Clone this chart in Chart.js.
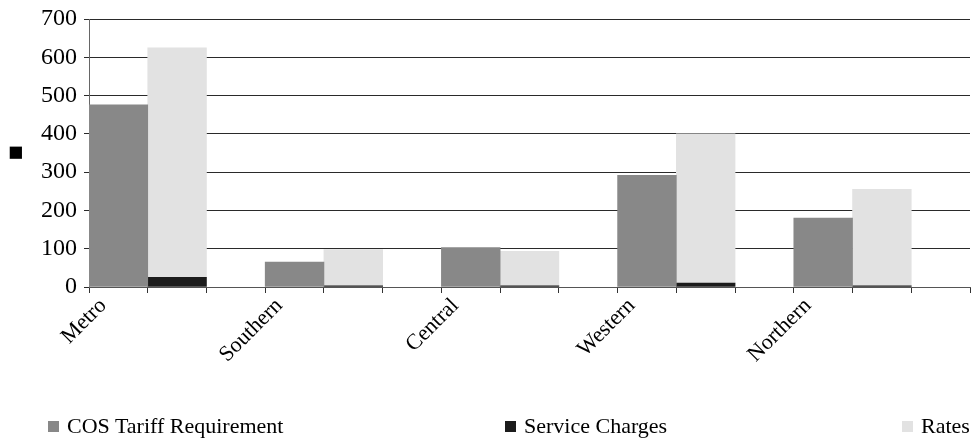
<!DOCTYPE html>
<html>
<head>
<meta charset="utf-8">
<script src="https://cdn.jsdelivr.net/npm/chart.js@4.4.1/dist/chart.umd.min.js"></script>
<style>
  body { margin: 0; background: #fff; }
  #wrap { position: relative; width: 974px; height: 440px; }
  #legend { position: absolute; left: 0; top: 413px; width: 974px; height: 27px;
            font-family: "Liberation Serif", serif; font-size: 22px; color: #000; }
  .item { position: absolute; top: 0; white-space: nowrap; }
  .box { display: inline-block; width: 11px; height: 11px; margin-right: 8px; vertical-align: 1px; }
</style>
</head>
<body>
<div id="wrap">
  <canvas id="js--chart"></canvas>
  <div id="legend"></div>
</div>
<script>
/* data */
const regions = ["Metro", "Southern", "Central", "Western", "Northern"];
const cosTariff = [476, 65, 103, 292, 180];
const serviceCharges = [25, 3, 3, 10, 3];
const rates = [600, 95, 90, 390, 252];
const yTicks = [0, 100, 200, 300, 400, 500, 600, 700];

const seriesNames = ["COS Tariff Requirement", "Service Charges", "Rates"];
const seriesColors = ['#888888', '#1c1c1c', '#e2e2e2'];
const legendLeft = [48, 505, 902];

// each region gets three slots, the third one stays empty
const slots = [];
regions.forEach(function(r){ slots.push("", "", ""); });

const serif = "'Liberation Serif', 'Times New Roman', serif";

const data = {
    labels: regions,
    datasets: [
        { label: seriesNames[0], data: cosTariff, backgroundColor: seriesColors[0], stack: 'a' },
        { label: seriesNames[1], data: serviceCharges, backgroundColor: seriesColors[1], stack: 'b' },
        { label: seriesNames[2], data: rates, backgroundColor: seriesColors[2], stack: 'b' },
        { label: '', data: regions.map(function(){ return null; }), stack: 'c' }
    ]
};

const config = {
    type: 'bar',
    data: data,
    options: {
        responsive: false,
        animation: false,
        layout: { padding: { top: 18, right: 4, left: 0, bottom: 0 } },
        datasets: { bar: { categoryPercentage: 1, barPercentage: 1, borderWidth: 0 } },
        plugins: { legend: { display: false }, tooltip: { enabled: false } },
        scales: {
            x: {
                type: 'category',
                stacked: true,
                weight: 1,
                grid: { display: false },
                border: { display: false },
                ticks: {
                    minRotation: 45, maxRotation: 45,
                    labelOffset: -74, padding: -8,
                    color: '#000',
                    font: { family: serif, size: 22 }
                },
                afterFit: function(s){ s.height = 147; }
            },
            x2: {
                type: 'category',
                position: 'bottom',
                labels: slots,
                offset: true,
                weight: 0,
                grid: { offset: true, drawOnChartArea: false, drawTicks: true, tickLength: 6, color: '#333' },
                border: { display: true, color: '#555', width: 1 },
                ticks: { display: false },
                afterFit: function(s){ s.height = 6; }
            },
            y: {
                stacked: true,
                min: 0, max: 700,
                afterBuildTicks: function(s){ s.ticks = yTicks.map(function(v){ return { value: v }; }); },
                grid: { color: '#2a2a2a', tickLength: 5, lineWidth: 1 },
                border: { display: true, color: '#666' },
                ticks: { color: '#000', padding: 7, font: { family: serif, size: 24, lineHeight: 1 } },
                title: { display: true, text: '■', color: '#000', padding: { top: 6, bottom: 0 },
                         font: { family: 'DejaVu Sans', size: 16 } },
                afterFit: function(s){ s.width = 89; }
            }
        }
    }
};

const canvas = document.getElementById("js--chart");
canvas.width = 974;
canvas.height = 440;
new Chart(canvas, config);

// legend spread over the width like the original
const legend = document.getElementById("legend");
seriesNames.forEach(function(name, i){
    const item = document.createElement("span");
    item.className = "item";
    item.style.left = legendLeft[i] + "px";
    const box = document.createElement("span");
    box.className = "box";
    box.style.background = seriesColors[i];
    item.appendChild(box);
    item.appendChild(document.createTextNode(name));
    legend.appendChild(item);
});
</script>
</body>
</html>
